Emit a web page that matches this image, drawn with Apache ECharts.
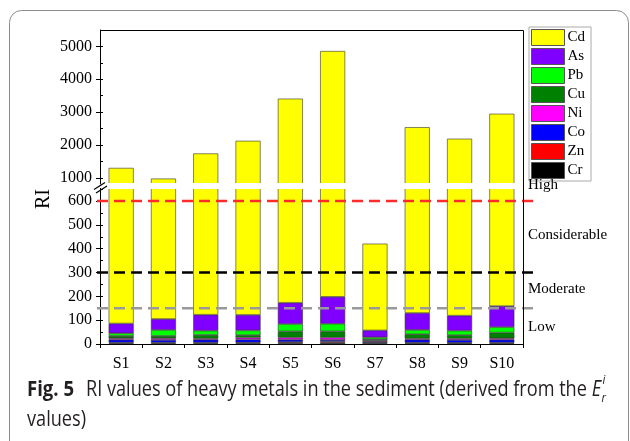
<!DOCTYPE html>
<html>
<head>
<meta charset="utf-8">
<script src="https://cdn.jsdelivr.net/npm/echarts@6/dist/echarts.min.js"></script>
<style>
  html, body { margin: 0; padding: 0; background: #fff; }
  #chart { width: 630px; height: 441px; }
</style>
</head>
<body>
<div id="chart"></div>
<script>
// Sampling sites
const sites = ['S1', 'S2', 'S3', 'S4', 'S5', 'S6', 'S7', 'S8', 'S9', 'S10'];

// Potential ecological risk index contribution of each metal (E_r^i)
const Cr = [3, 3, 3, 3, 4, 6, 3, 3, 3, 3];
const Zn = [3, 3, 3, 3, 4, 4, 3, 3, 2, 3];
const Co = [12, 11, 12, 13, 10, 7, 4, 12, 12, 12];
const Ni = [6, 7, 5, 8, 9, 10, 4, 5, 6, 6];
const Cu = [10, 10, 15, 10, 26, 26, 6, 18, 14, 24];
const Pb = [11, 25, 18, 20, 31, 32, 8, 18, 19, 23];
const As = [41, 46, 67, 65, 89, 113, 29, 71, 63, 88];
const Cd = [1214, 870, 1617, 2003, 3237, 4662, 364, 2410, 2071, 2791];

// Risk grade thresholds of RI
const thresholdValues = [150, 300, 600];
const gradeNames = ['Low', 'Moderate', 'Considerable', 'High'];

// Axis tick values (lower segment and upper segment of the broken axis)
const lowerTicks = [0, 100, 200, 300, 400, 500, 600];
const lowerMinorTicks = [0, 50, 100, 150, 200, 250, 300, 350, 400, 450, 500, 550, 600, 650];
const upperTicks = [1000, 2000, 3000, 4000, 5000];
const upperMinorTicks = [1000, 1500, 2000, 2500, 3000, 3500, 4000, 4500, 5000];

// ---- styling ----
const metalData = { Cr, Zn, Co, Ni, Cu, Pb, As, Cd };
const stackOrder = ['Cr', 'Zn', 'Co', 'Ni', 'Cu', 'Pb', 'As', 'Cd'];
const metalColors = {
  Cd: '#ffff00', As: '#8000ff', Pb: '#00ff00', Cu: '#008000',
  Ni: '#ff00ff', Co: '#0000ff', Zn: '#ff0000', Cr: '#000000'
};
const thresholdColors = { 150: '#999999', 300: '#000000', 600: '#ff2a2a' };

const SERIF = 'Liberation Serif';
const SANS = '"Open Sans", "Noto Sans", sans-serif';

// layout of the plot frame
const plotLeft = 100, plotRight = 523, plotTop = 30, plotBottom = 344;
const lowerMax = 655, upperMin = 810, upperMax = 5500;
const upperBottom = 184;
const pxPerUnitLow = 143 / 600;
const lowerTopY = plotBottom - lowerMax * pxPerUnitLow;

const chart = echarts.init(document.getElementById('chart'), null, { renderer: 'canvas' });

const series = [];
stackOrder.forEach(function (m) {
  const common = {
    name: m,
    type: 'bar',
    barWidth: 25,
    itemStyle: { color: metalColors[m], borderColor: '#333', borderWidth: 0.6 },
    emphasis: { disabled: true },
    clip: true,
    data: metalData[m]
  };
  series.push(Object.assign({}, common, { xAxisIndex: 0, yAxisIndex: 0, stack: 'lower' }));
  series.push(Object.assign({}, common, { xAxisIndex: 1, yAxisIndex: 2, stack: 'upper' }));
});
thresholdValues.forEach(function (v) {
  series.push({
    type: 'line',
    xAxisIndex: 2,
    yAxisIndex: 4,
    data: [[0, v], [1, v]],
    symbol: 'none',
    silent: true,
    z: 20,
    lineStyle: { color: thresholdColors[v], width: 2.5, type: [11, 6] }
  });
});

// measure caption parts so the pieces can be laid out side by side
const ctx = document.createElement('canvas').getContext('2d');
function textW(font, s) { ctx.font = font; return ctx.measureText(s).width; }
const capSize = 21;
const boldFont = 'bold ' + capSize + 'px ' + SANS;
const normFont = capSize + 'px ' + SANS;
const italFont = 'italic ' + capSize + 'px ' + SANS;
const capPart1 = 'Fig. 5';
const capPart2 = 'RI values of heavy metals in the sediment (derived from the ';
const capLine2 = 'values)';
const x1 = 27;
const sx = (601 - 86) / (textW(normFont, capPart2) + textW(italFont, 'E'));
const x2 = 86;
const sx1 = 47 / textW(boldFont, capPart1);
const xE = x2 + textW(normFont, capPart2) * sx;
const xEend = xE + textW(italFont, 'E') * sx;
const capY1 = 390, capY2 = 420;

const gradeY = { High: 185, Considerable: 235, Moderate: 289, Low: 327 };

const graphics = [
  // outer rounded panel
  { type: 'rect', shape: { x: 9.5, y: 10.5, width: 619, height: 445, r: 12 },
    style: { fill: 'none', stroke: '#8c8c8c', lineWidth: 1 }, z: 0, silent: true },
  // frame: top and right edges of plot
  { type: 'polyline', shape: { points: [[plotLeft, plotTop + 0.5], [plotRight + 0.5, plotTop + 0.5], [plotRight + 0.5, plotBottom]] },
    style: { stroke: '#000', lineWidth: 1, fill: 'none' }, z: 30, silent: true },
  // white band of the axis break
  { type: 'rect', shape: { x: plotLeft + 1, y: upperBottom - 1, width: plotRight - plotLeft - 1.5, height: lowerTopY - upperBottom + 2.2 },
    style: { fill: '#fff' }, z: 25, silent: true },
  // break marks on the y axis
  { type: 'line', shape: { x1: 94, y1: 189.5, x2: 105, y2: 182.5 }, style: { stroke: '#000', lineWidth: 1.2 }, z: 31, silent: true },
  { type: 'line', shape: { x1: 96, y1: 193, x2: 107, y2: 186 }, style: { stroke: '#000', lineWidth: 1.2 }, z: 31, silent: true },
  { type: 'rect', shape: { x: 98, y: 185, width: 4, height: 3 }, style: { fill: '#fff' }, z: 30, silent: true },
  // axis title
  { type: 'text', x: 44, y: 199, rotation: Math.PI / 2,
    style: { text: 'RI', font: '20px ' + SERIF, fill: '#000', textAlign: 'center', textVerticalAlign: 'middle' }, z: 30, silent: true },
  // caption
  { type: 'text', x: x1, y: capY1, scaleX: sx1,
    style: { text: capPart1, font: boldFont, fill: '#231f20', textVerticalAlign: 'middle' }, z: 30, silent: true },
  { type: 'text', x: x2, y: capY1, scaleX: sx,
    style: { text: capPart2, font: normFont, fill: '#231f20', textVerticalAlign: 'middle' }, z: 30, silent: true },
  { type: 'text', x: xE, y: capY1, scaleX: sx,
    style: { text: 'E', font: italFont, fill: '#231f20', textVerticalAlign: 'middle' }, z: 30, silent: true },
  { type: 'text', x: xEend + 0.5, y: capY1 + 8, scaleX: sx,
    style: { text: 'r', font: 'italic 13px ' + SANS, fill: '#231f20', textVerticalAlign: 'middle' }, z: 30, silent: true },
  { type: 'text', x: xEend + 1.5, y: capY1 - 10, scaleX: sx,
    style: { text: 'i', font: 'italic 13px ' + SANS, fill: '#231f20', textVerticalAlign: 'middle' }, z: 30, silent: true },
  { type: 'text', x: x1, y: capY2, scaleX: sx,
    style: { text: capLine2, font: normFont, fill: '#231f20', textVerticalAlign: 'middle' }, z: 30, silent: true }
];
gradeNames.forEach(function (g) {
  graphics.push({ type: 'text', x: 528, y: gradeY[g],
    style: { text: g, font: '15px ' + SERIF, fill: '#000', textVerticalAlign: 'middle' }, z: 30, silent: true });
});

const axisBlack = { lineStyle: { color: '#000', width: 1 } };
const plainNumber = function (v) { return String(v); };
const serifLabel = { fontFamily: SERIF, fontSize: 16, color: '#000' };
// rich style forces the serif face on axis labels
const richSerif = { s: { fontFamily: SERIF, fontSize: 16, color: '#000' } };

chart.setOption({
  animation: false,
  backgroundColor: '#fff',
  textStyle: { fontFamily: SERIF },
  legend: {
    data: ['Cd', 'As', 'Pb', 'Cu', 'Ni', 'Co', 'Zn', 'Cr'],
    orient: 'vertical',
    left: 529,
    top: 27,
    itemWidth: 33,
    itemHeight: 16,
    itemGap: 2,
    padding: [2, 6, 2, 2],
    icon: 'rect',
    borderColor: '#aaa',
    borderWidth: 1,
    backgroundColor: '#fff',
    selectedMode: false,
    textStyle: { fontFamily: SERIF, fontSize: 15, color: '#000', padding: [0, 0, 0, -2] },
    itemStyle: { borderColor: '#555', borderWidth: 1 }
  },
  grid: [
    { left: plotLeft, right: 630 - plotRight, top: lowerTopY, bottom: 441 - plotBottom },
    { left: plotLeft, right: 630 - plotRight, top: plotTop, height: upperBottom - plotTop },
    { left: 97, right: 630 - 536, top: lowerTopY, bottom: 441 - plotBottom }
  ],
  xAxis: [
    { type: 'category', gridIndex: 0, data: sites,
      axisLine: axisBlack,
      axisTick: { show: true, inside: false, length: 4, lineStyle: { color: '#000' } },
      axisLabel: Object.assign({ margin: 12, interval: 0,
        formatter: function (v) { return '{s|' + v + '}'; }, rich: richSerif }, serifLabel) },
    { type: 'category', gridIndex: 1, data: sites, show: false },
    { type: 'value', gridIndex: 2, min: 0, max: 1, show: false }
  ],
  yAxis: [
    { type: 'value', gridIndex: 0, min: 0, max: lowerMax,
      axisLine: { show: true, lineStyle: { color: '#000', width: 1 } },
      axisTick: { show: true, inside: false, length: 4, customValues: lowerTicks, lineStyle: { color: '#000' } },
      axisLabel: Object.assign({ customValues: lowerTicks, margin: 8,
        formatter: function (v) { return '{s|' + plainNumber(v) + '}'; }, rich: richSerif }, serifLabel),
      splitLine: { show: false } },
    { type: 'value', gridIndex: 0, min: 0, max: lowerMax, position: 'left',
      axisLine: { show: false },
      axisTick: { show: true, inside: true, length: 3, customValues: lowerMinorTicks, lineStyle: { color: '#000' } },
      axisLabel: { show: false }, splitLine: { show: false } },
    { type: 'value', gridIndex: 1, min: upperMin, max: upperMax,
      axisLine: { show: true, lineStyle: { color: '#000', width: 1 } },
      axisTick: { show: true, inside: false, length: 4, customValues: upperTicks, lineStyle: { color: '#000' } },
      axisLabel: Object.assign({ customValues: upperTicks, margin: 8,
        formatter: function (v) { return '{s|' + plainNumber(v) + '}'; }, rich: richSerif }, serifLabel),
      splitLine: { show: false } },
    { type: 'value', gridIndex: 1, min: upperMin, max: upperMax, position: 'left',
      axisLine: { show: false },
      axisTick: { show: true, inside: true, length: 3, customValues: upperMinorTicks, lineStyle: { color: '#000' } },
      axisLabel: { show: false }, splitLine: { show: false } },
    { type: 'value', gridIndex: 2, min: 0, max: lowerMax, show: false }
  ],
  series: series,
  graphic: graphics
});
</script>
</body>
</html>
